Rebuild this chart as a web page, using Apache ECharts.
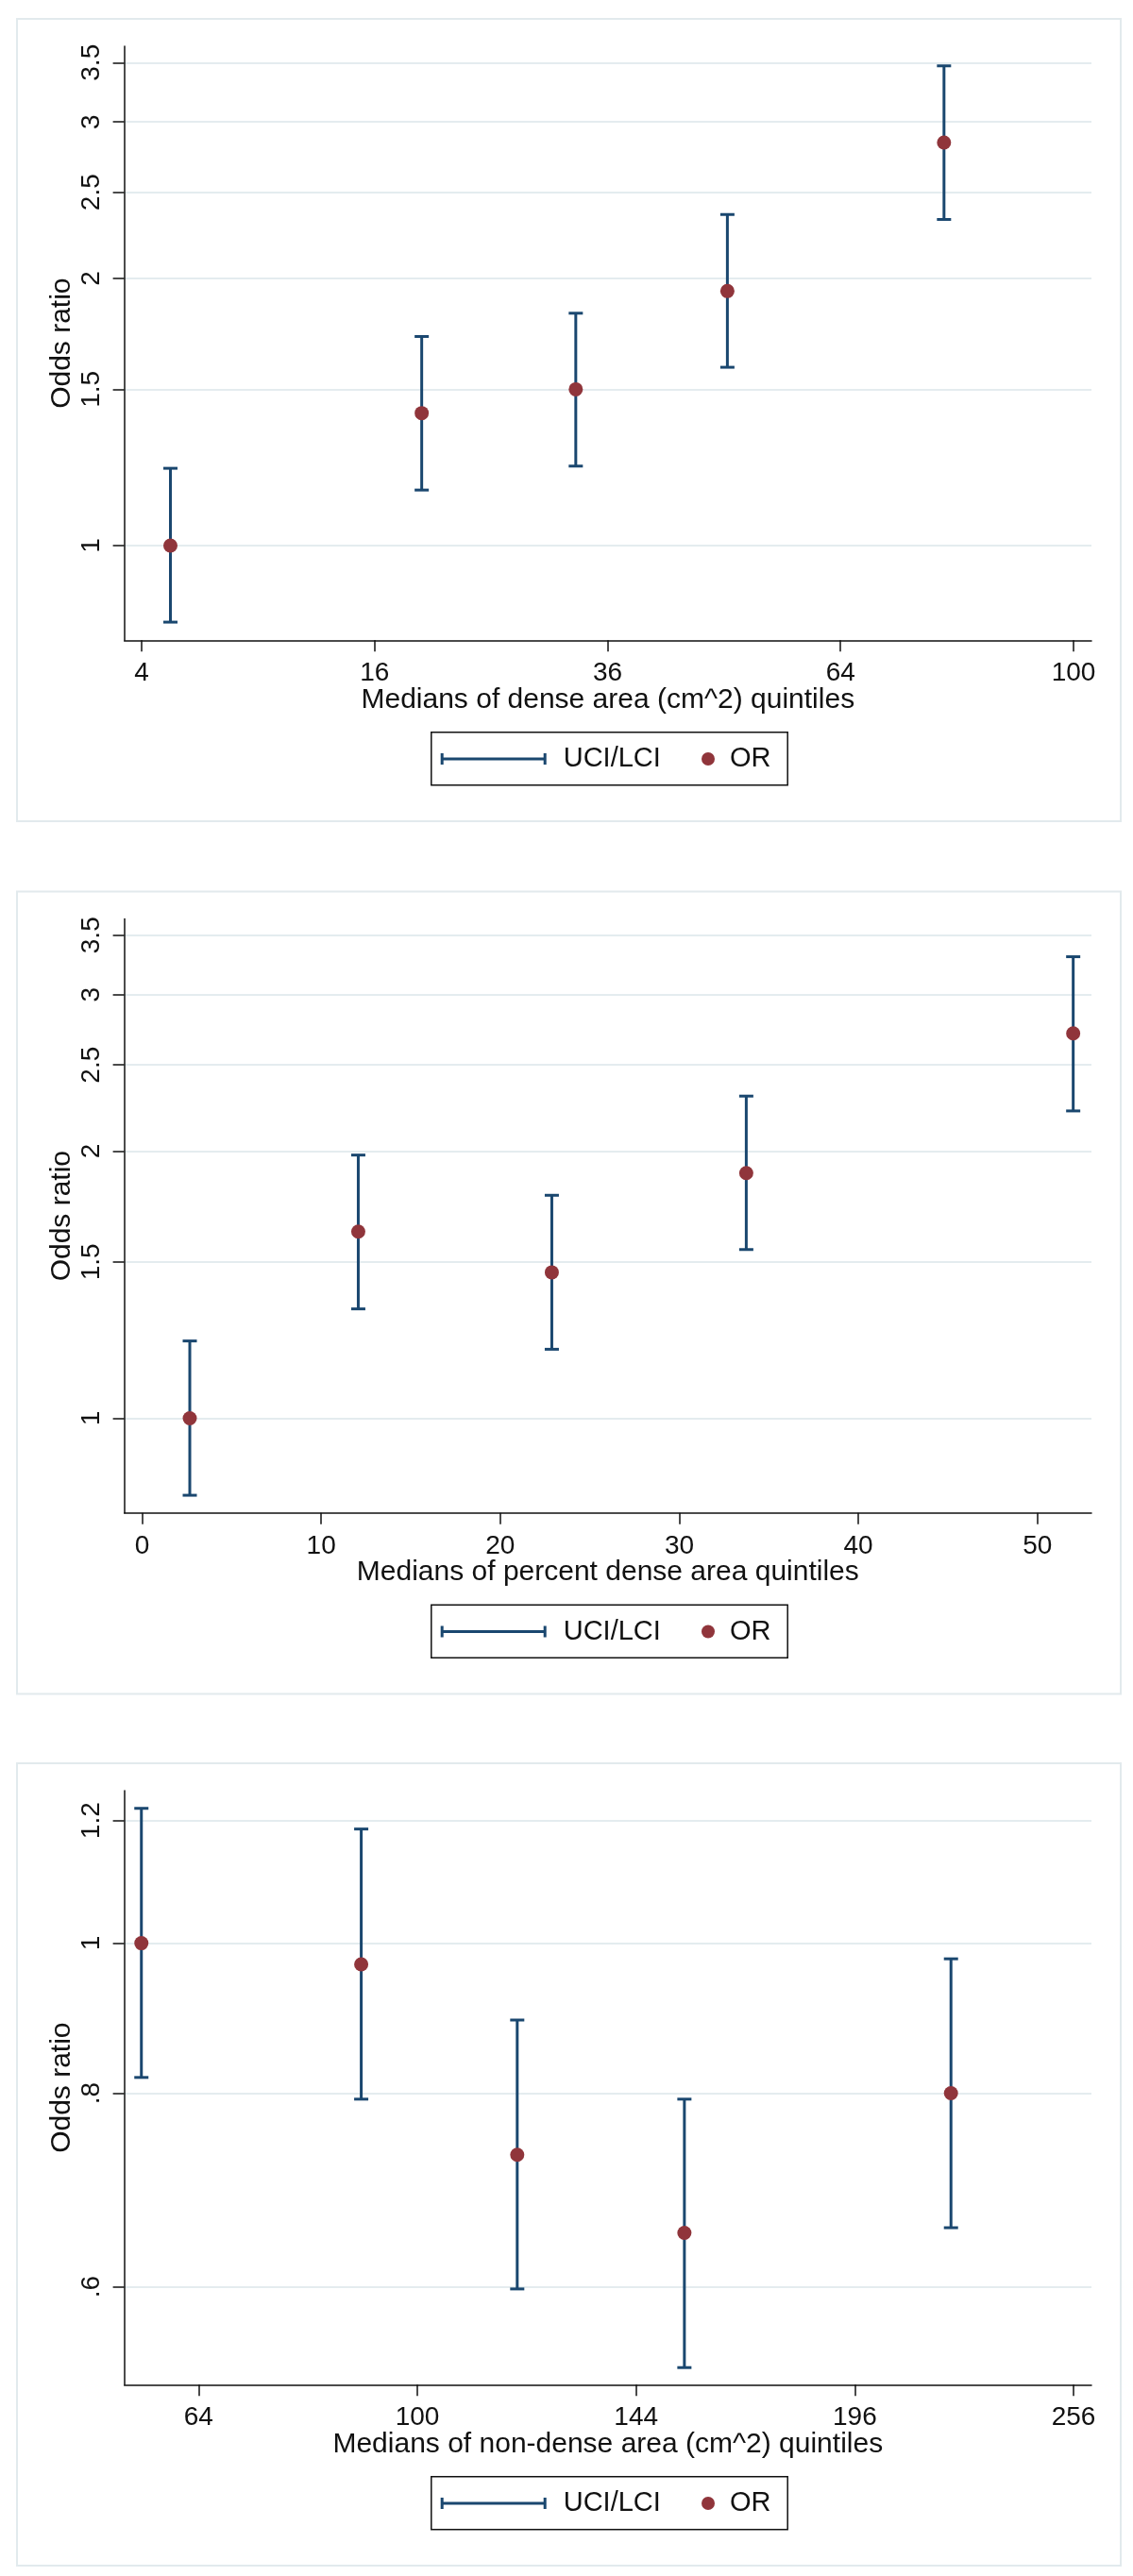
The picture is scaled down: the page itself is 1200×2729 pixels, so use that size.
<!DOCTYPE html>
<html>
<head>
<meta charset="utf-8">
<title>Odds ratios by quintile medians</title>
<script src="https://cdn.jsdelivr.net/npm/echarts@6/dist/echarts.min.js"></script>
<style>
  html, body { margin: 0; padding: 0; background: #fff; }
  #chart { width: 1200px; height: 2729px; }
</style>
</head>
<body>
<div id="chart"></div>
<script>
// dense area (cm^2) quintiles
const denseMedians = [5.05, 19.4, 32.8, 49.4, 79.0];
const denseOR = [1.0, 1.41, 1.50, 1.935, 2.844];
const denseLCI = [0.82, 1.155, 1.229, 1.588, 2.33];
const denseUCI = [1.222, 1.72, 1.827, 2.36, 3.47];
const denseTicks = [4, 16, 36, 64, 100];

// percent dense area quintiles
const pctMedians = [2.66, 12.07, 22.88, 33.74, 52.0];
const pctOR = [1.0, 1.623, 1.46, 1.889, 2.713];
const pctLCI = [0.819, 1.328, 1.196, 1.549, 2.219];
const pctUCI = [1.222, 1.979, 1.783, 2.306, 3.31];
const pctTicks = [0, 10, 20, 30, 40, 50];

// non-dense area (cm^2) quintiles
const nonDenseMedians = [55.9, 90.0, 119.1, 154.8, 221.4];
const nonDenseOR = [1.0, 0.969, 0.730, 0.650, 0.800];
const nonDenseLCI = [0.819, 0.793, 0.598, 0.532, 0.655];
const nonDenseUCI = [1.222, 1.185, 0.892, 0.793, 0.977];
const nonDenseTicks = [64, 100, 144, 196, 256];

// odds ratio tick labels (log scale)
const orTicks = ['1', '1.5', '2', '2.5', '3', '3.5'];
const orTicksNonDense = ['.6', '.8', '1', '1.2'];

const FONT = 'Liberation Sans, Arial, Helvetica, sans-serif';
const NAVY = '#1a476f';
const MAROON = '#90353b';
const GRIDLINE = '#e4ecef';
const FRAME = '#e2eaed';
const INK = '#111';

const sqrt = (v) => Math.sqrt(v);
const ident = (v) => v;

const panels = [
  {
    x: denseMedians, or: denseOR, lci: denseLCI, uci: denseUCI,
    xTicks: denseTicks, yTicks: orTicks, tx: sqrt, back: (v) => v * v,
    xMin: 1.851, xMax: 10.154, yMin: -0.2455, yMax: 1.295,
    title: 'Medians of dense area (cm^2) quintiles', dy: 0,
  },
  {
    x: pctMedians, or: pctOR, lci: pctLCI, uci: pctUCI,
    xTicks: pctTicks, yTicks: orTicks, tx: ident, back: ident,
    xMin: -1.0, xMax: 53.02, yMin: -0.2455, yMax: 1.295,
    title: 'Medians of percent dense area quintiles', dy: 924.5,
  },
  {
    x: nonDenseMedians, or: nonDenseOR, lci: nonDenseLCI, uci: nonDenseUCI,
    xTicks: nonDenseTicks, yTicks: orTicksNonDense, tx: sqrt, back: (v) => v * v,
    xMin: 7.32, xMax: 16.164, yMin: -0.6565, yMax: 0.2268,
    title: 'Medians of non-dense area (cm^2) quintiles', dy: 1848,
  },
];

const textStyle = { color: INK, fontFamily: FONT, fontSize: 28 };
const titleStyle = { ...textStyle, fontSize: 30 };
const legendText = { ...textStyle, fontSize: 29 };

function renderErrorBar(params, api) {
  const lo = api.coord([api.value(0), api.value(1)]);
  const hi = api.coord([api.value(0), api.value(2)]);
  const half = 7.5;
  const style = { stroke: NAVY, lineWidth: 3, fill: null };
  return {
    type: 'group',
    children: [
      { type: 'line', shape: { x1: lo[0], y1: lo[1], x2: hi[0], y2: hi[1] }, style },
      { type: 'line', shape: { x1: lo[0] - half, y1: lo[1], x2: lo[0] + half, y2: lo[1] }, style },
      { type: 'line', shape: { x1: hi[0] - half, y1: hi[1], x2: hi[0] + half, y2: hi[1] }, style },
    ],
  };
}

const option = {
  animation: false,
  backgroundColor: '#fff',
  grid: [],
  xAxis: [],
  yAxis: [],
  series: [],
  legend: [],
  graphic: [],
};

panels.forEach((p, i) => {
  option.grid.push({
    left: 131.6, width: 1024.4, top: 49 + p.dy, height: 629.3,
    outerBoundsMode: 'none', containLabel: false,
  });

  const xVals = p.xTicks.map(p.tx);
  option.xAxis.push({
    type: 'value', gridIndex: i, min: p.xMin, max: p.xMax,
    axisLine: { show: true, onZero: false, lineStyle: { color: INK, width: 1.5 } },
    axisTick: { show: true, length: 12, customValues: xVals, lineStyle: { color: INK, width: 1.5 } },
    axisLabel: {
      ...textStyle, margin: 21, customValues: xVals,
      formatter: (v) => String(Math.round(p.back(v))),
    },
    splitLine: { show: false },
    name: p.title, nameLocation: 'middle', nameGap: 48, nameMoveOverlap: false,
    nameTextStyle: titleStyle,
  });

  const yVals = p.yTicks.map((t) => Math.log(Number(t)));
  option.yAxis.push({
    type: 'value', gridIndex: i, min: p.yMin, max: p.yMax,
    axisLine: { show: true, onZero: false, lineStyle: { color: INK, width: 1.5 } },
    axisTick: { show: true, length: 12, customValues: yVals, lineStyle: { color: INK, width: 1.5 } },
    axisLabel: {
      ...textStyle, margin: 20, rotate: 90, customValues: yVals,
      formatter: (v) => {
        let best = 0;
        yVals.forEach((y, k) => { if (Math.abs(y - v) < Math.abs(yVals[best] - v)) best = k; });
        return p.yTicks[best];
      },
    },
    splitLine: { show: true, lineStyle: { color: GRIDLINE, width: 2 } },
    name: 'Odds ratio', nameLocation: 'middle', nameGap: 51, nameMoveOverlap: false,
    nameTextStyle: titleStyle,
  });

  option.series.push({
    name: 'UCI/LCI', type: 'custom', xAxisIndex: i, yAxisIndex: i,
    itemStyle: { color: NAVY },
    encode: { x: 0, y: [1, 2] },
    renderItem: renderErrorBar,
    data: p.x.map((v, k) => [p.tx(v), Math.log(p.lci[k]), Math.log(p.uci[k])]),
    z: 3,
  });
  option.series.push({
    name: 'OR', type: 'scatter', xAxisIndex: i, yAxisIndex: i,
    symbol: 'circle', symbolSize: 15,
    itemStyle: { color: MAROON, opacity: 1 },
    data: p.x.map((v, k) => [p.tx(v), Math.log(p.or[k])]),
    z: 4,
  });

  // two legends per panel, framed by one box
  option.legend.push({
    left: 466.7, top: 789.5 + p.dy, padding: 0, orient: 'horizontal',
    itemWidth: 112, itemHeight: 12, selectedMode: false,
    data: [{ name: 'UCI/LCI', icon: 'path://M0,0h3v12h-3z M0,4.5h112v3h-112z M109,0h3v12h-3z' }],
    textStyle: { ...legendText, padding: [0, 0, 0, 13] },
  });
  option.legend.push({
    left: 743, top: 789.5 + p.dy, padding: 0, orient: 'horizontal',
    itemWidth: 14, itemHeight: 14, selectedMode: false,
    data: [{ name: 'OR', icon: 'circle' }],
    textStyle: { ...legendText, padding: [0, 0, 0, 11] },
  });

  option.graphic.push({
    type: 'rect', left: 17, top: 19 + p.dy, z: -1,
    shape: { width: 1169, height: 850 },
    style: { fill: '#fff', stroke: FRAME, lineWidth: 2 },
  });
  option.graphic.push({
    type: 'rect', left: 454.3, top: 773.3 + p.dy, z: 0,
    shape: { width: 377.4, height: 56 },
    style: { fill: 'none', stroke: INK, lineWidth: 1.5 },
  });
});

const chart = echarts.init(document.getElementById('chart'), null, { renderer: 'canvas' });
chart.setOption(option);
</script>
</body>
</html>
